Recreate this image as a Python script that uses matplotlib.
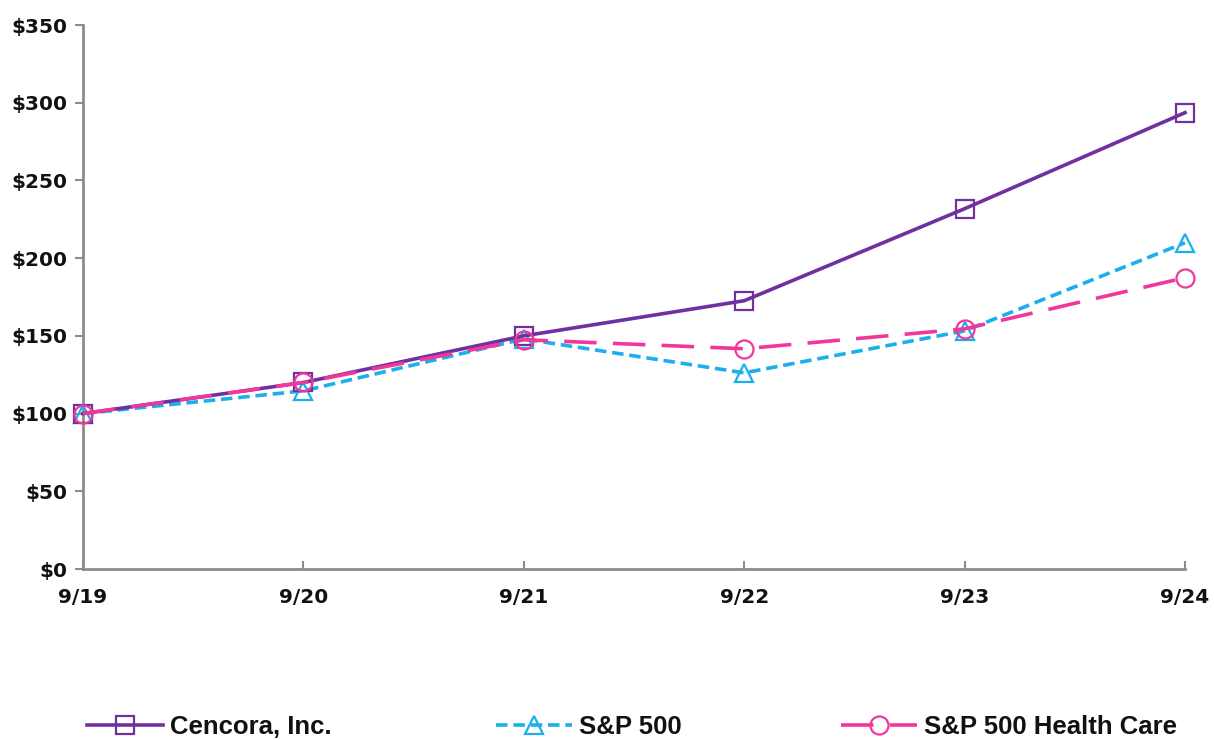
import matplotlib
matplotlib.use("Agg")
import matplotlib.pyplot as plt
from matplotlib.ticker import FuncFormatter

years = ["9/19", "9/20", "9/21", "9/22", "9/23", "9/24"]
cencora = [100, 120, 150, 172.6, 231.8, 293.6]
sp500 = [100, 114.6, 148, 126.2, 153.2, 209.9]
sp500_hc = [100, 120, 147.5, 141.7, 154.5, 187.4]
y_ticks = [0, 50, 100, 150, 200, 250, 300, 350]

purple = "#7030A0"
cyan = "#1BB0EC"
pink = "#F2379A"

fig = plt.figure(figsize=(12.14, 7.4), dpi=100)
ax = fig.add_axes([83/1214, 1 - 569/740, (1185-83)/1214, (569-25)/740])

x = list(range(len(years)))
l1, = ax.plot(x, cencora, color=purple, lw=2.6, marker="s", ms=13, mfc="none", mec=purple, mew=1.6,
              label="Cencora, Inc.", zorder=4, clip_on=False)
l2, = ax.plot(x, sp500, color=cyan, lw=2.6, ls=(0, (3.2, 1.6)), marker="^", ms=13, mfc="none", mec=cyan, mew=1.6,
              label="S&P 500", zorder=3, clip_on=False)
l3, = ax.plot(x, sp500_hc, color=pink, lw=2.6, ls=(0, (9, 4.5)), marker="o", ms=13, mfc="none", mec=pink, mew=1.6,
              label="S&P 500 Health Care", zorder=5, clip_on=False)

ax.set_xlim(0, len(years) - 1)
ax.set_ylim(0, 350)
ax.set_xticks(x)
ax.set_xticklabels(years)
ax.set_yticks(y_ticks)
ax.yaxis.set_major_formatter(FuncFormatter(lambda v, p: f"${v:.0f}"))

for s in ["top", "right"]:
    ax.spines[s].set_visible(False)
for s in ["left", "bottom"]:
    ax.spines[s].set_color("#8C8C8C")
    ax.spines[s].set_linewidth(2)
ax.tick_params(axis="y", direction="out", length=6, width=1.5, color="#8C8C8C", pad=5)
ax.tick_params(axis="x", direction="in", length=6, width=1.5, color="#8C8C8C", pad=14)
for lab in ax.get_xticklabels() + ax.get_yticklabels():
    lab.set_fontfamily(["DejaVu Sans"])
    lab.set_fontweight("bold")
    lab.set_fontsize(14.5)
    lab.set_color("#111111")

prop = {"family": ["Liberation Sans", "DejaVu Sans"], "weight": "bold", "size": 18.5}
for h, xs in [(l1, 87), (l2, 496), (l3, 841)]:
    leg = fig.legend(handles=[h], loc="center left", bbox_to_anchor=(xs/1214, 1 - 727/740),
                     frameon=False, handlelength=2.95, handletextpad=0.28, borderpad=0, borderaxespad=0,
                     prop=prop)
    for t in leg.get_texts():
        t.set_color("#111111")

fig.savefig("out.png", dpi=100)
